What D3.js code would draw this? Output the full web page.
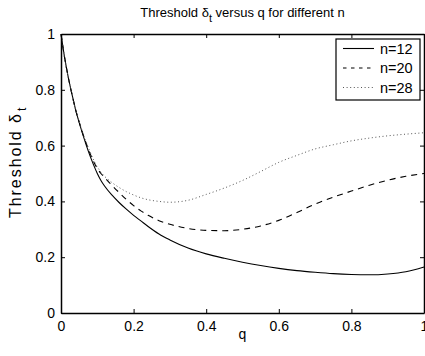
<!DOCTYPE html>
<html>
<head>
<meta charset="utf-8">
<script src="https://cdn.jsdelivr.net/npm/d3@7"></script>
<style>
body { margin: 0; background: #fff; }
text { font-family: "Liberation Sans", Arial, Helvetica, sans-serif; fill: #000; }
</style>
</head>
<body>
<script>
// values
const qValues = [0, 0.01, 0.02, 0.03, 0.04, 0.05, 0.06, 0.07, 0.08, 0.09, 0.1, 0.11, 0.12,
    0.14, 0.16, 0.18, 0.2, 0.22, 0.24, 0.27, 0.3, 0.35, 0.4, 0.45, 0.5, 0.55, 0.6, 0.65,
    0.7, 0.75, 0.8, 0.85, 0.9, 0.95, 1];
const n12 = [1, 0.915, 0.845, 0.785, 0.73, 0.683, 0.64, 0.6, 0.563, 0.53, 0.5, 0.475, 0.455,
    0.423, 0.396, 0.372, 0.35, 0.33, 0.31, 0.283, 0.262, 0.233, 0.212, 0.196, 0.182, 0.17, 0.16, 0.152,
    0.146, 0.141, 0.138, 0.137, 0.14, 0.148, 0.165];
const n20 = [1, 0.915, 0.845, 0.785, 0.73, 0.685, 0.643, 0.606, 0.572, 0.542, 0.518, 0.5, 0.486,
    0.458, 0.432, 0.407, 0.385, 0.366, 0.35, 0.331, 0.318, 0.303, 0.296, 0.295, 0.3, 0.312, 0.332, 0.36,
    0.39, 0.415, 0.437, 0.458, 0.476, 0.49, 0.5];
const n28 = [1, 0.915, 0.845, 0.785, 0.73, 0.687, 0.646, 0.61, 0.578, 0.548, 0.524, 0.505, 0.49,
    0.468, 0.45, 0.435, 0.423, 0.413, 0.406, 0.4, 0.397, 0.404, 0.425, 0.448, 0.475, 0.507, 0.54, 0.565,
    0.588, 0.603, 0.617, 0.627, 0.635, 0.641, 0.646];
const seriesNames = ["n=12", "n=20", "n=28"];
const xTicks = [0, 0.2, 0.4, 0.6, 0.8, 1];
const yTicks = [0, 0.2, 0.4, 0.6, 0.8, 1];

const width = 425, height = 356;
const mLeft = 61, mRight = 424, mTop = 34, mBottom = 313;

const svg = d3.select("body").append("svg")
    .attr("width", width)
    .attr("height", height);

const x = d3.scaleLinear().domain([0, 1]).range([mLeft, mRight]);
const y = d3.scaleLinear().domain([0, 1]).range([mBottom, mTop]);

// curves
const styles = [
    { color: "#000", dash: null, w: 1.1 },
    { color: "#000", dash: "6,5", w: 1.1 },
    { color: "#555", dash: "1,2.6", w: 1 }
];
const series = [n12, n20, n28];
const line = d3.line()
    .x(d => x(d[0]))
    .y(d => y(d[1]))
    .curve(d3.curveMonotoneX);

series.forEach((vals, i) => {
    svg.append("path")
        .datum(qValues.map((q, j) => [q, vals[j]]))
        .attr("fill", "none")
        .attr("stroke", styles[i].color)
        .attr("stroke-width", styles[i].w)
        .attr("stroke-dasharray", styles[i].dash)
        .attr("d", line);
});

// axes, ticks inward on all four sides
const fmt = d => d === 0 || d === 1 ? String(d) : d.toFixed(1);
const axB = svg.append("g").attr("transform", `translate(0,${mBottom})`)
    .call(d3.axisBottom(x).tickValues(xTicks).tickFormat(fmt).tickSizeInner(-4).tickSizeOuter(0).tickPadding(8));
const axT = svg.append("g").attr("transform", `translate(0,${mTop})`)
    .call(d3.axisTop(x).tickValues(xTicks).tickFormat("").tickSizeInner(-4).tickSizeOuter(0));
const axL = svg.append("g").attr("transform", `translate(${mLeft},0)`)
    .call(d3.axisLeft(y).tickValues(yTicks).tickFormat(fmt).tickSizeInner(-4).tickSizeOuter(0).tickPadding(6));
const axR = svg.append("g").attr("transform", `translate(${mRight},0)`)
    .call(d3.axisRight(y).tickValues(yTicks).tickFormat("").tickSizeInner(-4).tickSizeOuter(0));

[axB, axT, axL, axR].forEach(g => {
    g.select(".domain").attr("stroke", "#000").attr("stroke-width", 1.5);
    g.selectAll(".tick line").attr("stroke", "#000");
    g.selectAll("text").attr("font-size", 14).style("font-family", "Liberation Sans, Arial, sans-serif");
});

// title and labels
const title = svg.append("text")
    .attr("x", (mLeft + mRight) / 2)
    .attr("y", 17)
    .attr("text-anchor", "middle")
    .attr("font-size", 13);
title.append("tspan").text("Threshold \u03b4");
title.append("tspan").attr("dy", 5).attr("font-size", 11).text("t");
title.append("tspan").attr("dy", -5).text(" versus q for different n");

svg.append("text")
    .attr("x", (mLeft + mRight) / 2)
    .attr("y", 339)
    .attr("text-anchor", "middle")
    .attr("font-size", 14)
    .text("q");

const yl = svg.append("text")
    .attr("transform", "translate(21,218) rotate(-90)")
    .attr("text-anchor", "start")
    .attr("font-size", 16);
yl.append("tspan").attr("textLength", 104).attr("lengthAdjust", "spacing").text("Threshold \u03b4");
yl.append("tspan").attr("dx", 1).attr("dy", 5).attr("font-size", 12).text("t");

// legend
const lg = svg.append("g");
lg.append("rect")
    .attr("x", 336).attr("y", 39)
    .attr("width", 84).attr("height", 61)
    .attr("fill", "#fff")
    .attr("stroke", "#000")
    .attr("stroke-width", 1.2);
seriesNames.forEach((name, i) => {
    const ly = 48.5 + i * 19.5;
    lg.append("line")
        .attr("x1", 343).attr("x2", 374)
        .attr("y1", ly).attr("y2", ly)
        .attr("stroke", styles[i].color)
        .attr("stroke-width", styles[i].w)
        .attr("stroke-dasharray", i === 1 ? "3.5,4.5" : styles[i].dash);
    lg.append("text")
        .attr("x", 380).attr("y", ly + 5)
        .attr("font-size", 14.5)
        .text(name);
});
</script>
</body>
</html>
